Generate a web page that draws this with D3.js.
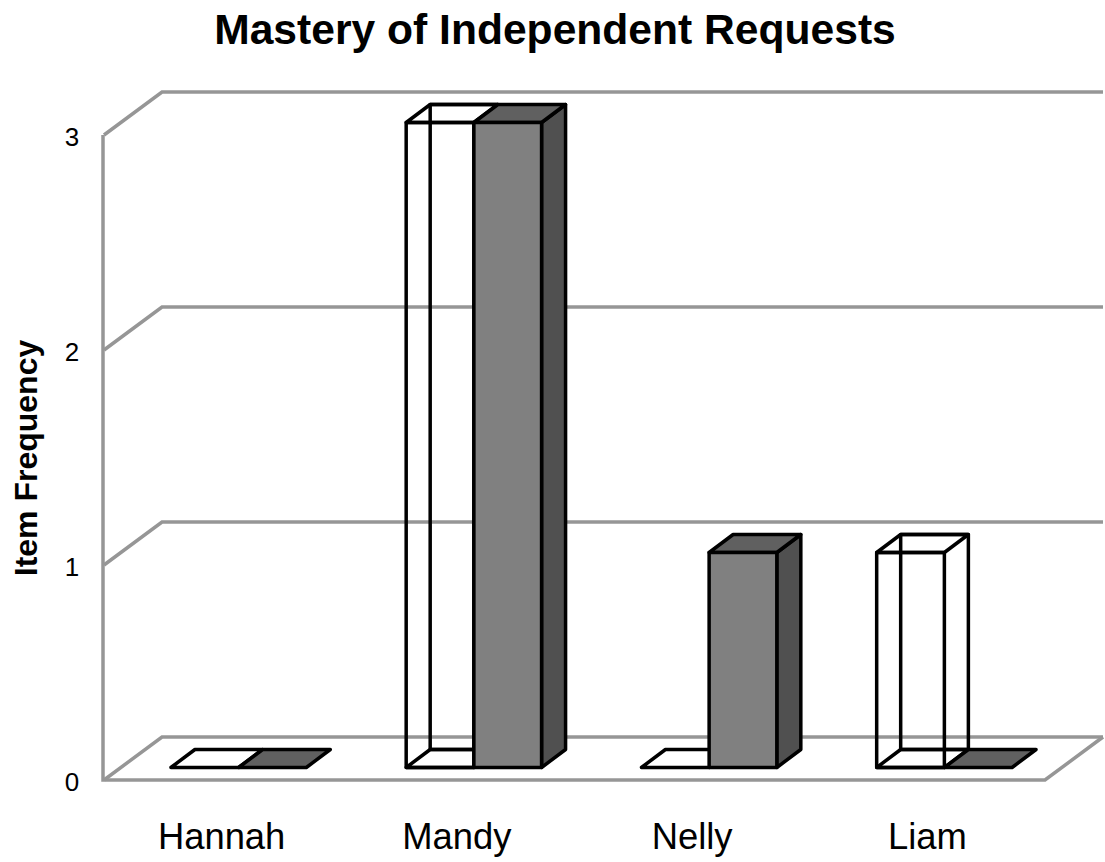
<!DOCTYPE html>
<html>
<head>
<meta charset="utf-8">
<script src="https://cdnjs.cloudflare.com/ajax/libs/d3/7.8.5/d3.min.js"></script>
<style>
body { margin: 0; background: #fff; }
text { font-family: "Liberation Sans", Arial, sans-serif; fill: #000; }
</style>
</head>
<body>
<div id="chart"></div>
<script>
var categories = ["Hannah", "Mandy", "Nelly", "Liam"];
var seriesNames = ["first", "second"];
var firstValues = [0, 3, 0, 1];
var secondValues = [0, 3, 1, 0];
var tickValues = [0, 1, 2, 3];

var w = 1105, h = 862;

// front-left corner of the floor and the 3d offset of the whole plot
var plot = { left: 104, right: 1045, bottom: 780, top: 135 };
var depth = { dx: 58, dy: 43 };
var barDepth = { dx: 24, dy: 18 };

var svg = d3.select("#chart").append("svg")
    .attr("width", w)
    .attr("height", h)
    .style("display", "block");

var x = d3.scaleBand()
    .domain(categories)
    .range([plot.left, plot.right])
    .paddingInner(0.4245)
    .paddingOuter(0.21225);

var xSeries = d3.scaleBand()
    .domain(seriesNames)
    .range([0, x.bandwidth()]);

var y = d3.scaleLinear()
    .domain([0, 3])
    .range([plot.bottom, plot.top]);

var line = d3.line();

// walls and floor
var grid = svg.append("g")
    .attr("fill", "none")
    .attr("stroke", "#969696")
    .attr("stroke-width", 3.5);

grid.selectAll(".gridline")
    .data(tickValues)
    .enter().append("path")
    .attr("class", "gridline")
    .attr("d", function(d) {
        var pts = [
            [plot.left, y(d)],
            [plot.left + depth.dx, y(d) - depth.dy],
            [plot.right + depth.dx, y(d) - depth.dy]
        ];
        return line(pts);
    });

grid.append("path")
    .attr("d", line([
        [plot.left - 1, y(3)],
        [plot.left - 1, y(0)],
        [plot.right, y(0)],
        [plot.right + depth.dx, y(0) - depth.dy]
    ]));

// bar position: centred in the depth of the floor
var offX = (depth.dx - barDepth.dx) / 2;
var offY = (depth.dy - barDepth.dy) / 2;

function drawBar(g, x0, value, solid) {
    var x1 = x0 + xSeries.bandwidth();
    var yBase = y(0) - offY;
    var yTop = y(value) - offY;
    var dx = barDepth.dx, dy = barDepth.dy;

    function face(pts, fill) {
        g.append("path")
            .attr("d", line(pts) + "Z")
            .attr("fill", fill)
            .attr("stroke", "#000")
            .attr("stroke-width", 3.5)
            .attr("stroke-linejoin", "round");
    }

    if (solid) {
        if (value > 0) {
            face([[x1, yBase], [x1 + dx, yBase - dy], [x1 + dx, yTop - dy], [x1, yTop]], "#505050");
        }
        face([[x0, yTop], [x0 + dx, yTop - dy], [x1 + dx, yTop - dy], [x1, yTop]], "#606060");
        if (value > 0) {
            face([[x0, yBase], [x1, yBase], [x1, yTop], [x0, yTop]], "#808080");
        }
    } else {
        // outline only, the back edges show through
        face([[x0, yBase], [x0 + dx, yBase - dy], [x1 + dx, yBase - dy], [x1, yBase]], "#fff");
        if (value > 0) {
            face([[x0 + dx, yBase - dy], [x1 + dx, yBase - dy], [x1 + dx, yTop - dy], [x0 + dx, yTop - dy]], "none");
            face([[x0, yBase], [x1, yBase], [x1, yTop], [x0, yTop]], "none");
            face([[x0, yTop], [x0 + dx, yTop - dy], [x1 + dx, yTop - dy], [x1, yTop]], "none");
        }
    }
}

var bars = svg.append("g");

categories.forEach(function(name, i) {
    var g = bars.append("g");
    var x0 = x(name) + offX;
    drawBar(g, x0 + xSeries("first"), firstValues[i], false);
    drawBar(g, x0 + xSeries("second"), secondValues[i], true);
});

// axis labels
svg.selectAll(".ylabel")
    .data(tickValues)
    .enter().append("text")
    .attr("class", "ylabel")
    .attr("x", 72)
    .attr("y", function(d) { return y(d) + 11; })
    .attr("text-anchor", "middle")
    .style("font-size", "26px")
    .text(function(d) { return d; });

svg.selectAll(".xlabel")
    .data(categories)
    .enter().append("text")
    .attr("class", "xlabel")
    .attr("x", function(d) { return x(d) + x.bandwidth() / 2; })
    .attr("y", 849)
    .attr("text-anchor", "middle")
    .style("font-size", "36.4px")
    .text(function(d) { return d; });

svg.append("text")
    .attr("transform", "translate(37,458) rotate(-90)")
    .attr("text-anchor", "middle")
    .style("font-size", "32px")
    .style("font-weight", "bold")
    .text("Item Frequency");

svg.append("text")
    .attr("x", 555)
    .attr("y", 44)
    .attr("text-anchor", "middle")
    .style("font-size", "42.6px")
    .style("font-weight", "bold")
    .text("Mastery of Independent Requests");
</script>
</body>
</html>
